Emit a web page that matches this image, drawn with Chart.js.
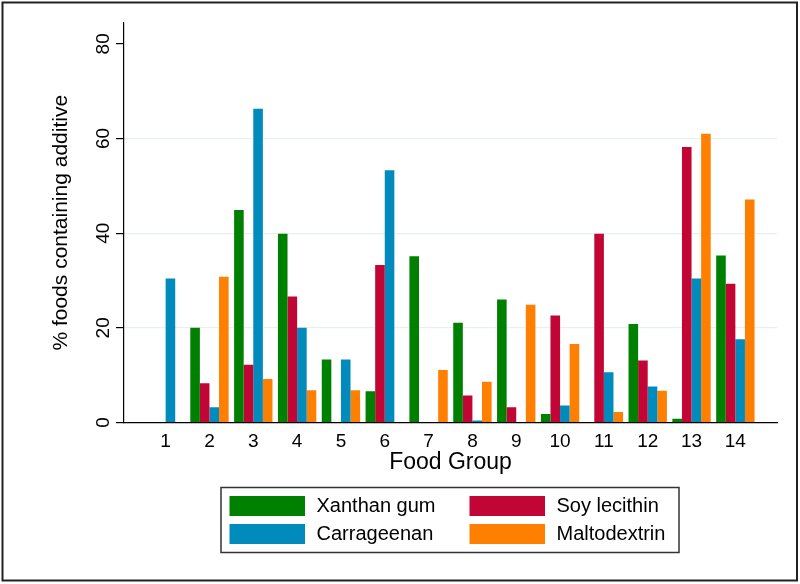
<!DOCTYPE html>
<html>
<head>
<meta charset="utf-8">
<script src="https://cdn.jsdelivr.net/npm/chart.js@4.4.0/dist/chart.umd.min.js"></script>
<style>
    body { margin: 0; background: #fff; }
    #wrap { position: relative; width: 800px; height: 584px; }
</style>
</head>
<body>
<div id="wrap"><canvas id="chart"></canvas></div>
<script>
const categories = [1, 2, 3, 4, 5, 6, 7, 8, 9, 10, 11, 12, 13, 14];
const yTicks = [0, 20, 40, 60, 80];

const xanthanGum = [0, 20.0, 44.9, 39.9, 13.3, 6.6, 35.1, 21.1, 26.0, 1.8, 0, 20.8, 0.8, 35.3];
const soyLecithin = [0, 8.3, 12.2, 26.6, 0, 33.3, 0, 5.7, 3.2, 22.6, 39.9, 13.1, 58.2, 29.3];
const carrageenan = [30.4, 3.2, 66.3, 20.0, 13.3, 53.3, 0, 0.4, 0, 3.6, 10.6, 7.6, 30.4, 17.6];
const maltodextrin = [0, 30.8, 9.2, 6.8, 6.8, 0, 11.1, 8.6, 24.9, 16.6, 2.2, 6.7, 61.0, 47.1];

const seriesNames = ["Xanthan gum", "Soy lecithin", "Carrageenan", "Maltodextrin"];
const seriesColors = ["#008000", "#c10534", "#008bbc", "#ff7f00"];
const seriesValues = [xanthanGum, soyLecithin, carrageenan, maltodextrin];

const FONT = "'Liberation Sans', Arial, Helvetica, sans-serif";

// legend: 2 sloupce, 2 radky (poradi jako ve State)
const legendLayout = [
    { i: 0, col: 0, row: 0 },
    { i: 1, col: 1, row: 0 },
    { i: 2, col: 0, row: 1 },
    { i: 3, col: 1, row: 1 }
];

const framePlugin = {
    id: "frame",
    afterDraw(chart) {
        const ctx = chart.ctx;
        ctx.save();

        // legenda
        ctx.strokeStyle = "#333";
        ctx.lineWidth = 1.5;
        ctx.strokeRect(221, 487.5, 458, 65);
        ctx.font = "20px " + FONT;
        ctx.textBaseline = "middle";
        ctx.fillStyle = "#000";
        legendLayout.forEach(item => {
            const sx = item.col === 0 ? 229.5 : 469.5;
            const sy = item.row === 0 ? 496 : 524;
            ctx.fillStyle = seriesColors[item.i];
            ctx.fillRect(sx, sy, 75.5, 20);
            ctx.fillStyle = "#000";
            ctx.fillText(seriesNames[item.i], sx + 87, sy + 10.5);
        });

        // ramecek kolem celeho obrazku
        ctx.strokeStyle = "#222";
        ctx.lineWidth = 2;
        ctx.strokeRect(2.5, 2.5, 794.5, 578);
        ctx.restore();
    }
};

const datasets = seriesNames.map((name, s) => ({
    label: name,
    data: categories.map((c, i) => ({ x: c, y: seriesValues[s][i] })),
    backgroundColor: seriesColors[s],
    borderWidth: 0,
    categoryPercentage: 0.875,
    barPercentage: 1.0
}));

new Chart(document.getElementById("chart"), {
    type: "bar",
    data: { datasets: datasets },
    options: {
        responsive: true,
        maintainAspectRatio: false,
        animation: false,
        layout: { padding: { top: 23, right: 23, left: 0, bottom: 101.5 } },
        plugins: {
            legend: { display: false },
            tooltip: { enabled: false }
        },
        scales: {
            x: {
                type: "linear",
                min: 0.05,
                max: 14.95,
                offset: false,
                afterBuildTicks: scale => { scale.ticks = categories.map(v => ({ value: v })); },
                afterFit: scale => { scale.height = 60; },
                grid: { display: false, drawTicks: false, offset: false },
                border: { display: true, color: "#000", width: 1.2 },
                ticks: {
                    color: "#000",
                    padding: 8,
                    maxRotation: 0,
                    autoSkip: false,
                    font: { family: FONT, size: 19 }
                },
                title: {
                    display: true,
                    text: "Food Group",
                    color: "#000",
                    font: { family: FONT, size: 23 },
                    padding: { top: 0, bottom: 6 }
                }
            },
            y: {
                min: 0,
                max: 84.4,
                afterBuildTicks: scale => { scale.ticks = yTicks.map(v => ({ value: v })); },
                afterFit: scale => { scale.width = 124; },
                grid: {
                    color: ctx => (ctx.tick && ctx.tick.value > 0 && ctx.tick.value < 80) ? "#e7f0f2" : "rgba(0,0,0,0)",
                    tickColor: "#000",
                    tickLength: 8,
                    lineWidth: 1.2
                },
                border: { display: true, color: "#000", width: 1.2 },
                ticks: {
                    color: "#000",
                    padding: 2,
                    minRotation: 90,
                    maxRotation: 90,
                    crossAlign: "center",
                    font: { family: FONT, size: 19 }
                },
                title: {
                    display: true,
                    text: "% foods containing additive",
                    color: "#000",
                    font: { family: FONT, size: 21 },
                    padding: { top: 49, bottom: 0 }
                }
            }
        }
    },
    plugins: [framePlugin]
});
</script>
</body>
</html>
